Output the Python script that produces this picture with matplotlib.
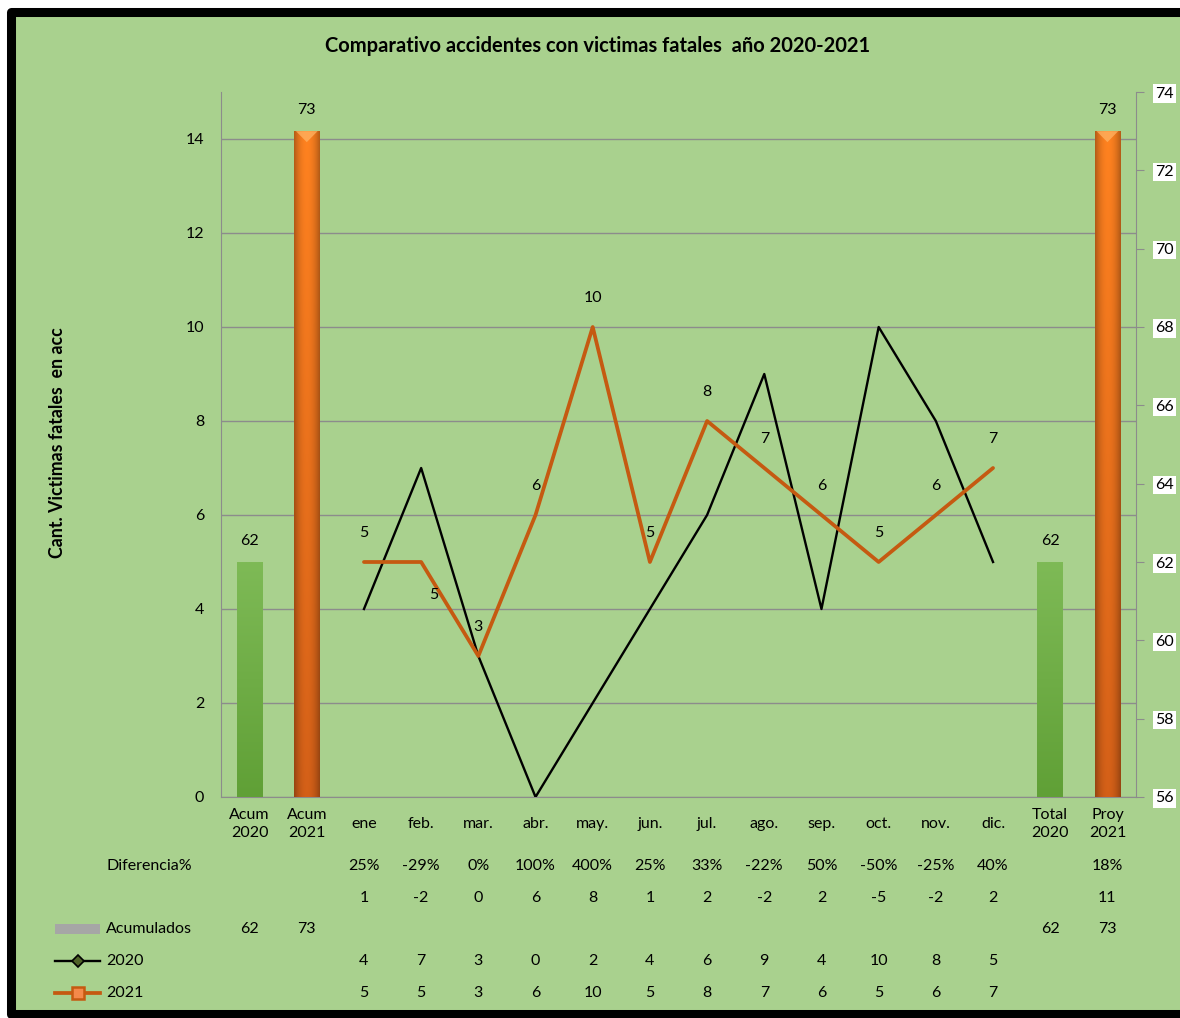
import numpy as np
import matplotlib as mpl
mpl.use('Agg')
import matplotlib.pyplot as plt
from matplotlib.lines import Line2D
from matplotlib.patches import Rectangle, Polygon
from matplotlib.transforms import blended_transform_factory

plt.rcParams['font.family'] = ['Lato', 'DejaVu Sans']

# Donnees
categorias = ['Acum\n2020', 'Acum\n2021', 'ene', 'feb.', 'mar.', 'abr.', 'may.',
              'jun.', 'jul.', 'ago.', 'sep.', 'oct.', 'nov.', 'dic.',
              'Total\n2020', 'Proy\n2021']
meses = categorias[2:14]
v2020 = [4, 7, 3, 0, 2, 4, 6, 9, 4, 10, 8, 5]
v2021 = [5, 5, 3, 6, 10, 5, 8, 7, 6, 5, 6, 7]
acum_cat = ['Acum\n2020', 'Acum\n2021', 'Total\n2020', 'Proy\n2021']
acum_val = [62, 73, 62, 73]
acum_tipo = ['2020', '2021', '2020', '2021']
dif_pct = ['25%', '-29%', '0%', '100%', '400%', '25%', '33%', '-22%', '50%',
           '-50%', '-25%', '40%']
dif_abs = [1, -2, 0, 6, 8, 1, 2, -2, 2, -5, -2, 2]
proy_pct = '18%'
proy_abs = 11

W, H = 1180, 1018
fondo = '#a9d18e'
naranja = '#c55a11'
gris = '#8c8c8c'
fs = 11.5

fig = plt.figure(figsize=(W / 100, H / 100), dpi=100)
fig.patch.set_facecolor('white')
# Cadre noir
fig.add_artist(Rectangle((10.5 / W, 1 - 1013.5 / H), 1.1, (1013.5 - 11.5) / H,
                         transform=fig.transFigure, facecolor=fondo,
                         edgecolor='black', linewidth=6.5, joinstyle='round',
                         zorder=-1))

ax = fig.add_axes([221 / W, 1 - 797 / H, (1136 - 221) / W, (797 - 92) / H])
ax.set_facecolor('none')
ax2 = ax.twinx()

xpos = {c: i for i, c in enumerate(categorias)}
xm = [xpos[m] for m in meses]

# Lignes
ax.plot(xm, v2020, color='black', lw=1.7, zorder=3)
ax.plot(xm, v2021, color=naranja, lw=2.7, zorder=4, solid_capstyle='round')
for i, (x, v) in enumerate(zip(xm, v2021)):
    if meses[i] == 'feb.':
        ax.annotate(str(v), (x, v), xytext=(9, -24), textcoords='offset points',
                    ha='center', va='center', fontsize=fs, zorder=5)
    else:
        ax.annotate(str(v), (x, v), xytext=(0, 21), textcoords='offset points',
                    ha='center', va='center', fontsize=fs, zorder=5)

ax.set_xlim(-0.5, len(categorias) - 0.5)
ax.set_ylim(0, 15)
ax.set_yticks(range(0, 15, 2))
ax.grid(axis='y', color=gris, lw=1)
ax.set_axisbelow(True)
ax.set_xticks([])
ax.tick_params(axis='y', length=0, pad=12, labelsize=fs)
for s in ['top', 'right']:
    ax.spines[s].set_visible(False)
for s in ['left', 'bottom']:
    ax.spines[s].set_color(gris)

# Barres sur l'axe secondaire
bw = 0.45
xb = [xpos[c] for c in acum_cat]
barras = ax2.bar(xb, np.array(acum_val) - 56, bottom=56, width=bw,
                 color='none', edgecolor='none')
for b, v, t in zip(barras, acum_val, acum_tipo):
    x0, w, h = b.get_x(), b.get_width(), b.get_height()
    n = 100
    u = np.linspace(0, 1, n)
    vert = u[:, None]
    if t == '2021':
        top = np.array([255, 130, 32]) / 255
        bot = np.array([212, 96, 24]) / 255
        hor = 1 - 0.30 * np.abs(2 * u - 1) ** 2
    else:
        top = np.array([126, 186, 86]) / 255
        bot = np.array([96, 160, 54]) / 255
        hor = np.ones(n)
    img = (top[None, None, :] * (1 - vert[..., None]) + bot[None, None, :] * vert[..., None])
    img = img * hor[None, :, None]
    ax2.imshow(np.clip(img, 0, 1), extent=[x0, x0 + w, 56, 56 + h], aspect='auto',
               zorder=2, interpolation='bilinear')
    if t == '2021':
        # petit biseau clair en haut de la barre
        yt = 56 + h
        ax2.add_patch(Polygon([[x0 + w * 0.08, yt], [x0 + w * 0.92, yt],
                               [x0 + w / 2, yt - 0.28]], closed=True,
                              facecolor='#ffb060', edgecolor='none', alpha=0.8, zorder=3))
    ax2.text(b.get_x() + w / 2, v + 0.35, str(v), ha='center', va='bottom',
             fontsize=fs)

ax2.set_xlim(-0.5, len(categorias) - 0.5)
ax2.set_ylim(56, 74)
ax2.set_yticks(range(56, 75, 2))
ax2.tick_params(axis='y', length=6, color=gris, pad=8, labelsize=fs)
for lab in ax2.get_yticklabels():
    lab.set_bbox(dict(facecolor='white', edgecolor='none', pad=1.5))
for s in ['top', 'left', 'bottom']:
    ax2.spines[s].set_visible(False)
ax2.spines['right'].set_color(gris)

# Titre et etiquette
fig.text(598 / W, 1 - 46 / H, 'Comparativo accidentes con victimas fatales  año 2020-2021',
         ha='center', va='center', fontsize=14.5, fontweight='bold')
fig.text(58 / W, 1 - 443 / H, 'Cant. Victimas fatales  en acc', rotation=90,
         ha='center', va='center', fontsize=12.8, fontweight='bold')

# Tableau de donnees
tr = blended_transform_factory(ax.transData, fig.transFigure)
def fy(p):
    return 1 - p / H

for c in categorias:
    ax.text(xpos[c], fy(824), c, transform=tr, ha='center', va='center',
            fontsize=fs, linespacing=1.35)

filas = {'dif': 866, 'abs': 898, 'acu': 929, 'a20': 961, 'a21': 993}
for x, p, d, a, b in zip(xm, dif_pct, dif_abs, v2020, v2021):
    ax.text(x, fy(filas['dif']), p, transform=tr, ha='center', va='center', fontsize=fs)
    ax.text(x, fy(filas['abs']), str(d), transform=tr, ha='center', va='center', fontsize=fs)
    ax.text(x, fy(filas['a20']), str(a), transform=tr, ha='center', va='center', fontsize=fs)
    ax.text(x, fy(filas['a21']), str(b), transform=tr, ha='center', va='center', fontsize=fs)
ax.text(xpos['Proy\n2021'], fy(filas['dif']), proy_pct, transform=tr, ha='center',
        va='center', fontsize=fs)
ax.text(xpos['Proy\n2021'], fy(filas['abs']), str(proy_abs), transform=tr, ha='center',
        va='center', fontsize=fs)
for c, v in zip(acum_cat, acum_val):
    ax.text(xpos[c], fy(filas['acu']), str(v), transform=tr, ha='center', va='center',
            fontsize=fs)

for k, lab in [('dif', 'Diferencia%'), ('acu', 'Acumulados'), ('a20', '2020'), ('a21', '2021')]:
    fig.text(106 / W, fy(filas[k]), lab, ha='left', va='center', fontsize=fs)

# Cles de legende
fig.add_artist(Rectangle((55 / W, fy(filas['acu'] + 5)), 45 / W, 10 / H,
                         transform=fig.transFigure, facecolor='#a6a6a6', edgecolor='none'))
fig.add_artist(Line2D([55 / W, 100 / W], [fy(filas['a20'])] * 2, color='black', lw=1.7,
                      transform=fig.transFigure))
fig.add_artist(Line2D([78 / W], [fy(filas['a20'])], marker='D', markersize=6,
                      markerfacecolor='#4f6228', markeredgecolor='black', markeredgewidth=1.2,
                      transform=fig.transFigure))
fig.add_artist(Line2D([55 / W, 100 / W], [fy(filas['a21'])] * 2, color=naranja, lw=2.7,
                      transform=fig.transFigure))
fig.add_artist(Line2D([78 / W], [fy(filas['a21'])], marker='s', markersize=8,
                      markerfacecolor='#f4894a', markeredgecolor=naranja, markeredgewidth=1.8,
                      transform=fig.transFigure))

fig.savefig('out.png', dpi=100)
